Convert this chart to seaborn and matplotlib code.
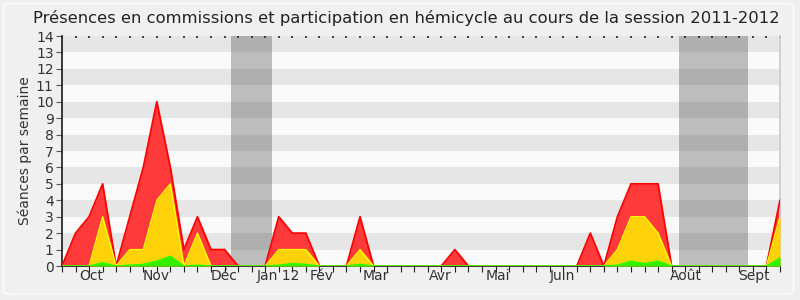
import numpy as np
import pandas as pd
import matplotlib
matplotlib.use("Agg")
import matplotlib.pyplot as plt
import seaborn as sns
from matplotlib.patches import FancyBboxPatch

# ---- data (weekly values, session 2011-2012) ----
weeks = list(range(54))
presences = [0, 2, 3, 5, 0, 3, 6, 10, 6, 1, 3, 1, 1, 0, 0, 0, 3, 2, 2, 0,
             0, 0, 3, 0, 0, 0, 0, 0, 0, 1, 0, 0, 0, 0, 0, 0, 0, 0, 0, 2,
             0, 3, 5, 5, 5, 0, 0, 0, 0, 0, 0, 0, 0, 4]
commissions = [0, 0, 0, 3, 0, 1, 1, 4, 5, 0, 2, 0, 0, 0, 0, 0, 1, 1, 1, 0,
               0, 0, 1, 0, 0, 0, 0, 0, 0, 0, 0, 0, 0, 0, 0, 0, 0, 0, 0, 0,
               0, 1, 3, 3, 2, 0, 0, 0, 0, 0, 0, 0, 0, 3]
hemicycle = [0, 0, 0, 0.2, 0, 0.05, 0.1, 0.3, 0.6, 0, 0.05, 0, 0, 0, 0, 0, 0.05, 0.15, 0.1, 0,
             0, 0, 0.1, 0, 0, 0, 0, 0, 0, 0, 0, 0, 0, 0, 0, 0, 0, 0, 0, 0,
             0, 0.05, 0.3, 0.15, 0.3, 0, 0, 0, 0, 0, 0, 0, 0, 0.5]
month_labels = ["Oct", "Nov", "Déc", "Jan 12", "Fév", "Mar", "Avr", "Mai",
                "Juin", "Juil", "Août", "Sept"]
month_pos = [2.14, 6.95, 11.94, 15.94, 19.2, 23.16, 27.9, 32.2, 36.95, 41.0, 46.07, 51.05]
vacations = [(12.44, 15.52), (45.57, 50.63)]
title = "Présences en commissions et participation en hémicycle au cours de la session 2011-2012"
ylabel = "Séances par semaine"

df = pd.DataFrame({"semaine": weeks, "presences": presences,
                   "commissions": commissions, "hemicycle": hemicycle})

sns.set_theme(style="white")
plt.rcParams["font.family"] = ["DejaVu Sans"]

fig = plt.figure(figsize=(8, 3), dpi=100, facecolor="#efefef")
fig.patches.append(FancyBboxPatch((0.004, 0.02), 0.988, 0.968, boxstyle="round,pad=0,rounding_size=0.01",
                                  transform=fig.transFigure, facecolor="#f0f0f0",
                                  edgecolor="#fbfbfb", linewidth=1.2, zorder=-10))
ax = fig.add_axes([0.0775, 0.1133, 0.8975, 0.7667])
ax.set_facecolor("#fafafa")

# alternating horizontal bands
for k in range(14):
    ax.axhspan(k, k + 1, color="#e6e6e6" if k % 2 == 1 else "#fafafa", lw=0, zorder=0)
for a, b in vacations:
    ax.axvspan(a, b, color="#323232", alpha=0.3, lw=0, zorder=1)

ax.fill_between(df["semaine"], df["presences"], color="#ff3a3a", lw=0, zorder=2)
sns.lineplot(data=df, x="semaine", y="presences", color="#ff0000", lw=1.3, ax=ax, zorder=3)
ax.fill_between(df["semaine"], df["commissions"], color="#ffd20a", lw=0, zorder=4)
sns.lineplot(data=df, x="semaine", y="commissions", color="#ffff00", lw=1.0, ax=ax, zorder=5)
ax.fill_between(df["semaine"], df["hemicycle"], color="#33ee00", lw=0, zorder=6)
sns.lineplot(data=df, x="semaine", y="hemicycle", color="#22ff00", lw=1.0, ax=ax, zorder=7)

ax.set_xlim(0, 53)
ax.set_ylim(0, 14)
ax.set_yticks(range(15))
ax.set_yticklabels([str(i) for i in range(15)], fontsize=10, color="#333333")
ax.set_xticks(weeks)
ax.set_xticklabels([])
ax.set_xticks(month_pos, minor=True)
ax.set_xticklabels(month_labels, minor=True, fontsize=10, color="#333333")
ax.tick_params(axis="x", which="major", bottom=True, top=False, direction="out", length=4,
               width=0.8, color="#222222")
ax.tick_params(axis="x", which="minor", length=0, pad=2)
ax.tick_params(axis="y", left=True, direction="out", length=4, width=0.8, color="#555555", pad=2)

# small dotted ticks along the top edge
top = ax.secondary_xaxis("top")
top.set_xticks(weeks)
top.set_xticklabels([])
top.tick_params(axis="x", direction="in", length=1.5, width=1.2, color="#222222")
top.spines["top"].set_visible(False)

ax.spines["top"].set_visible(False)
ax.spines["right"].set_color("#cccccc")
ax.spines["left"].set_color("#222222")
ax.spines["bottom"].set_color("#222222")
ax.set_xlabel("")
ax.set_ylabel(ylabel, fontsize=10, color="#333333", labelpad=3)
fig.text(0.5075, 0.94, title, ha="center", va="center", fontsize=11.8, color="#222222")

fig.savefig("out.png", dpi=100, facecolor=fig.get_facecolor())
